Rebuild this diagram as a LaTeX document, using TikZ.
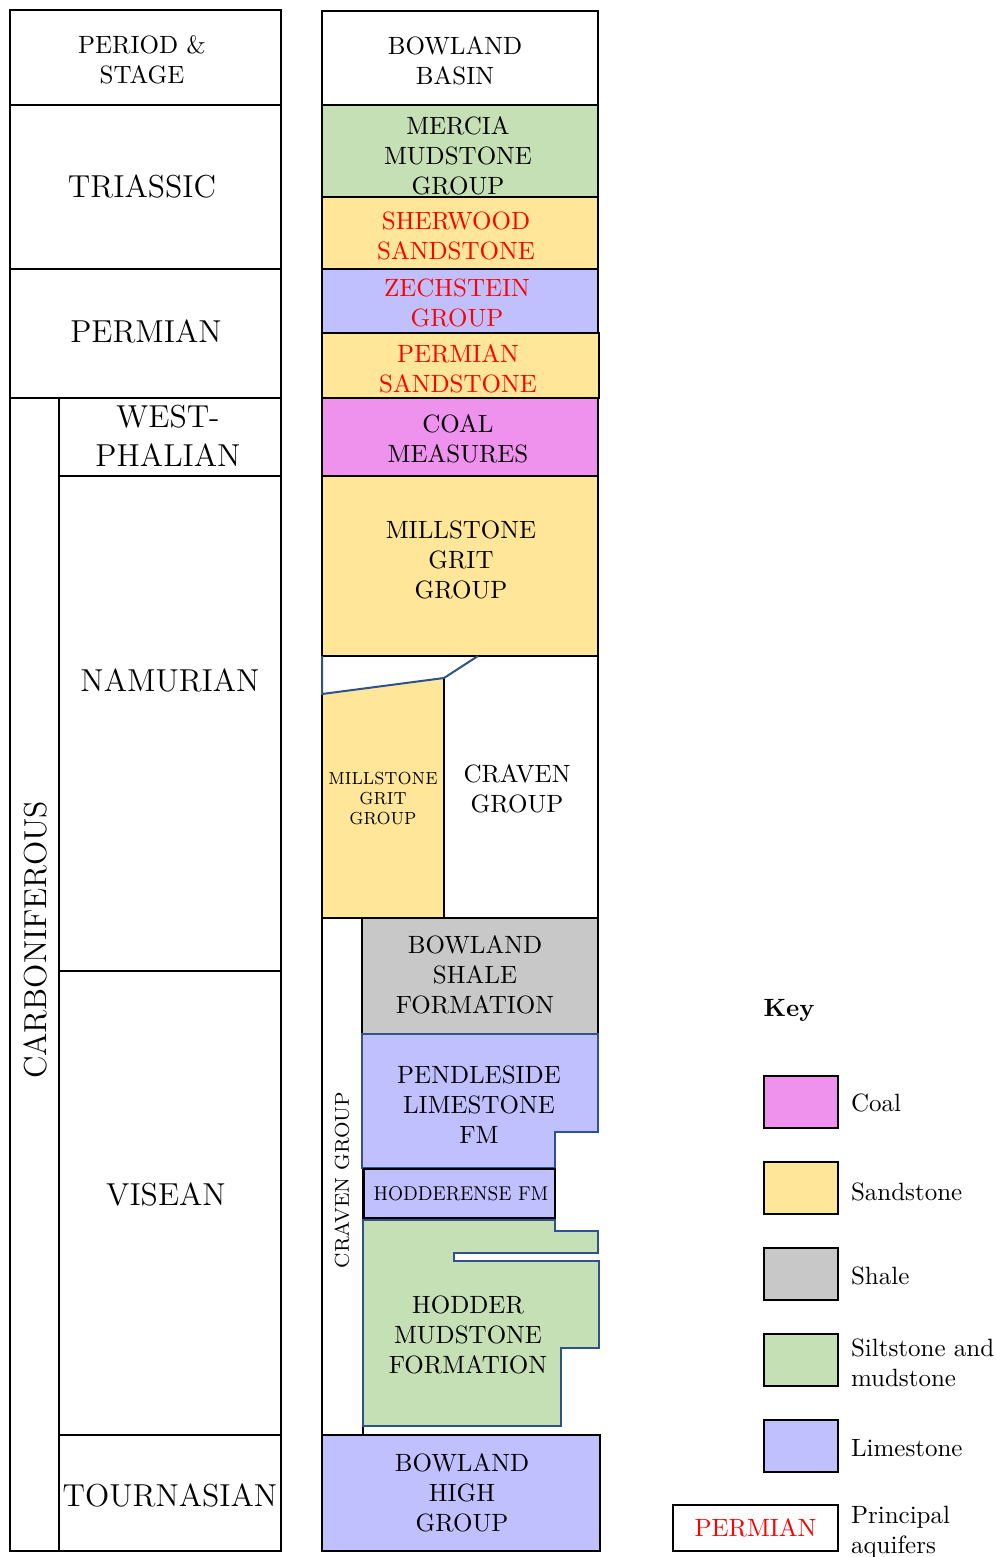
\documentclass[tikz,border=0pt]{standalone}
\usepackage{tikz}
\definecolor{mudgreen}{RGB}{197,224,180}
\definecolor{sandyellow}{RGB}{255,230,153}
\definecolor{limeblue}{RGB}{192,192,255}
\definecolor{coalpink}{RGB}{238,146,238}
\definecolor{shalegray}{RGB}{200,200,200}
\definecolor{edgeblue}{RGB}{47,82,143}

\begin{document}
\begin{tikzpicture}[x=0.4pt,y=-0.4pt,line width=0.8pt,
	lbl/.style={align=center,inner sep=0pt},
	big/.style={lbl,font=\fontsize{12.7}{15.5}\selectfont},
	aquifer/.style={lbl,text=red},
	edge/.style={draw=edgeblue,line width=0.8pt},
	swatch/.style={draw,minimum width=29.6pt,minimum height=20.8pt,inner sep=0pt}]
	\useasboundingbox (0,0) rectangle (995,1557);
	
	\draw (10,10) rectangle (281,105);
	\draw (10,105) rectangle (281,269);
	\draw (10,269) rectangle (281,398);
	\draw (10,398) rectangle (59,1551);
	\draw (59,398) rectangle (281,476);
	\draw (59,476) rectangle (281,971);
	\draw (59,971) rectangle (281,1435);
	\draw (59,1435) rectangle (281,1551);
	\node[lbl] (period) at (142,60) {PERIOD \&\\STAGE};
	\node[big] (triassic) at (142,187) {TRIASSIC};
	\node[big] (permian) at (146,332) {PERMIAN};
	\node[big,rotate=90] (carbon) at (35,940) {CARBONIFEROUS};
	\node[big] (westph) at (168,436) {WEST-\\PHALIAN};
	\node[big] (namur) at (170,680) {NAMURIAN};
	\node[big] (visean) at (166,1194) {VISEAN};
	\node[big] (tourn) at (170,1495) {TOURNASIAN};
	
	\draw (322,11) rectangle (598,105);
	\filldraw[fill=mudgreen] (322,105) rectangle (598,197);
	\filldraw[fill=sandyellow] (322,197) rectangle (598,269);
	\filldraw[fill=limeblue] (322,269) rectangle (598,333);
	\filldraw[fill=sandyellow] (322,333) rectangle (599,398);
	\filldraw[fill=coalpink] (322,398) rectangle (598,476);
	\filldraw[fill=sandyellow] (322,476) rectangle (598,656);
	\node[lbl] (basin) at (455,61) {BOWLAND\\BASIN};
	\node[lbl] (mercia) at (458,156) {MERCIA\\MUDSTONE\\GROUP};
	\node[aquifer] (sherwood) at (456,236) {SHERWOOD\\SANDSTONE};
	\node[aquifer] (zech) at (457,303) {ZECHSTEIN\\GROUP};
	\node[aquifer] (permsand) at (458,369) {PERMIAN\\SANDSTONE};
	\node[lbl] (coal) at (458,439) {COAL\\MEASURES};
	\node[lbl] (millgrit) at (461,560) {MILLSTONE\\GRIT\\GROUP};
	
	\fill[sandyellow] (322,694) -- (444,678) -- (444,918) -- (322,918) -- cycle;
	\draw (322,694) -- (322,918) -- (598,918) -- (598,656);
	\draw (444,678) -- (444,918);
	\draw[edge] (322,656) -- (322,694) -- (444,678) -- (478,656);
	\node[lbl,font=\scriptsize,xscale=0.92,transform shape] (millsmall) at (383,799) {MILLSTONE\\GRIT\\GROUP};
	\node[lbl] (craven) at (517,789) {CRAVEN\\GROUP};
	
	\draw (322,918) rectangle (363,1435);
	\node[lbl,font=\footnotesize,rotate=90] (cravenrot) at (342,1180) {CRAVEN GROUP};
	\filldraw[fill=shalegray] (362,918) rectangle (598,1034);
	\node[lbl] (shale) at (475,975) {BOWLAND\\SHALE\\FORMATION};
	\filldraw[fill=limeblue,edge] (362,1034) -- (598,1034) -- (598,1132) -- (555,1132) -- (555,1168) -- (362,1168) -- cycle;
	\node[lbl] (pendle) at (479,1105) {PENDLESIDE\\LIMESTONE\\FM};
	\filldraw[fill=limeblue] (364,1169) rectangle (555,1218);
	\node[lbl,font=\footnotesize,xscale=0.91,transform shape] (hodderense) at (461,1194) {HODDERENSE FM};
	\filldraw[fill=mudgreen,edge] (363,1220) -- (555,1220) -- (555,1231) -- (598,1231) -- (598,1253) -- (454,1253) -- (454,1261) -- (599,1261) -- (599,1348) -- (561,1348) -- (561,1426) -- (363,1426) -- cycle;
	\node[lbl] (hodder) at (468,1335) {HODDER\\MUDSTONE\\FORMATION};
	\filldraw[fill=limeblue] (322,1435) rectangle (600,1551);
	\node[lbl] (bhigh) at (462,1493) {BOWLAND\\HIGH\\GROUP};
	
	\node[lbl,font=\bfseries] (key) at (789,1010) {Key};
	\node[swatch,fill=coalpink] (kcoal) at (801,1102) {};
	\node[swatch,fill=sandyellow] (ksand) at (801,1188) {};
	\node[swatch,fill=shalegray] (kshale) at (801,1274) {};
	\node[swatch,fill=mudgreen] (ksilt) at (801,1360) {};
	\node[swatch,fill=limeblue] (klime) at (801,1446) {};
	\node[draw,minimum width=66pt,minimum height=18.4pt,inner sep=0pt,text=red] (kaquifer) at (755.5,1528) {PERMIAN};
	\node[lbl,anchor=west] (lcoal) at (850,1103) {Coal};
	\node[lbl,anchor=west] (lsand) at (850,1192) {Sandstone};
	\node[lbl,anchor=west] (lshale) at (850,1276) {Shale};
	\node[lbl,anchor=west,align=left] (lsilt) at (850,1363) {Siltstone and\\mudstone};
	\node[lbl,anchor=west] (llime) at (850,1448) {Limestone};
	\node[lbl,anchor=west,align=left] (laquifer) at (850,1532) {Principal\\aquifers};
\end{tikzpicture}
\end{document}
